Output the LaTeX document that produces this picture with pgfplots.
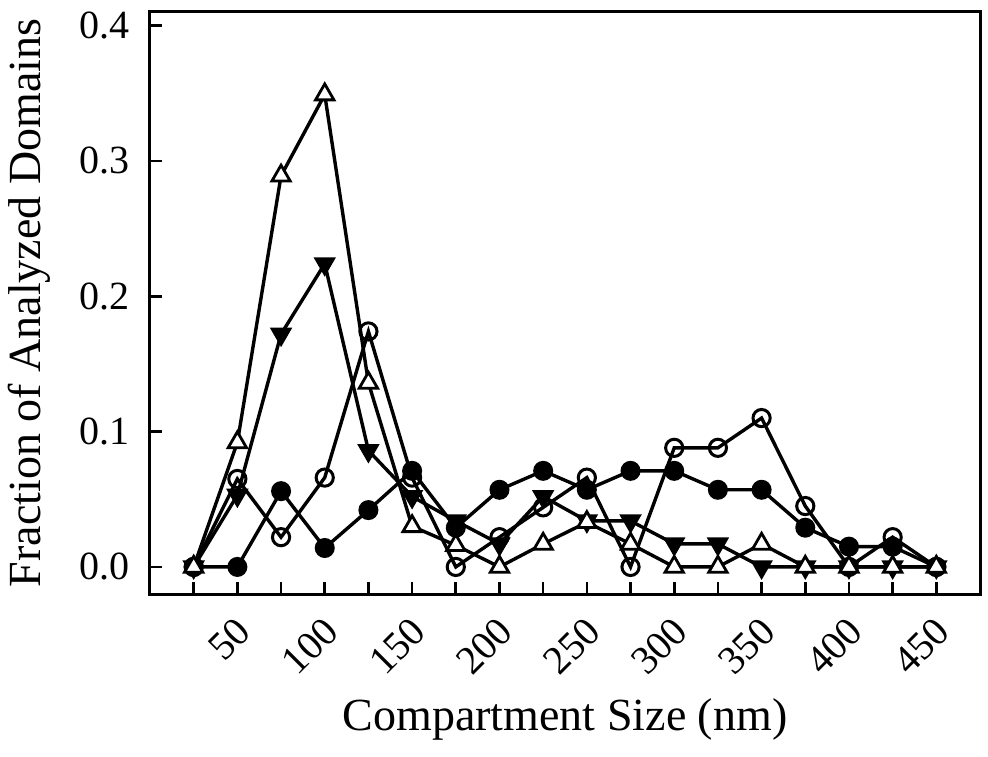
\documentclass[border=0pt]{standalone}
\usepackage{pgfplots}
\pgfplotsset{compat=1.18}
\usepackage{fontspec}
\setmainfont{Liberation Serif}
\begin{document}
\begin{tikzpicture}
\path[use as bounding box] (-75pt,-81pt) rectangle (419pt,297pt);
\begin{axis}[
  scale only axis, width=415pt, height=291pt,
  xmin=0, xmax=475, ymin=-0.02, ymax=0.41,
  /pgf/number format/assume math mode=true,
  axis line style={line width=1.5pt},
  tick style={line width=1.3pt, black},
  tick align=inside, xtick pos=bottom, ytick pos=left,
  major tick length=6pt, minor tick length=6pt,
  xtick={50,100,...,450},
  minor xtick={25,75,...,425},
  xticklabels={50,100,150,200,250,300,350,400,450},
  ytick={0,0.1,0.2,0.3,0.4},
  yticklabels={0.0,0.1,0.2,0.3,0.4},
  xticklabel style={font=\fontsize{20}{24}\selectfont, xshift=4pt, yshift=-14.5pt, rotate=45, anchor=east, inner sep=1pt},
  yticklabel style={font=\fontsize{20}{24}\selectfont, xshift=-6.5pt},
  xlabel={Compartment Size (nm)},
  ylabel={Fraction of Analyzed Domains},
  xlabel style={font=\fontsize{23}{27}\selectfont, at={(axis description cs:0.5,-0.215)}, anchor=center},
  ylabel style={font=\fontsize{23}{27}\selectfont, at={(axis description cs:-0.145,0.5)}, anchor=center},
  every axis plot/.append style={line width=1.7pt, black},
  clip=false,
]
% filled circles
\addplot[mark=*, mark size=4.5pt, mark options={fill=black, line width=1pt}] coordinates {
(25,0) (50,0) (75,0.056) (100,0.014) (125,0.042) (150,0.071) (175,0.029) (200,0.057) (225,0.071) (250,0.057) (275,0.071) (300,0.071) (325,0.057) (350,0.057) (375,0.029) (400,0.015) (425,0.015) (450,0)};
% open circles
\addplot[mark=o, mark size=4.3pt, mark options={fill=white, line width=1.5pt}] coordinates {
(25,0) (50,0.065) (75,0.022) (100,0.066) (125,0.174) (150,0.066) (175,0) (200,0.022) (225,0.044) (250,0.066) (275,0) (300,0.088) (325,0.088) (350,0.110) (375,0.045) (400,0) (425,0.022) (450,0)};
% filled down-triangles
\addplot[mark=triangle*, mark size=5.5pt, mark options={fill=black, rotate=180, line width=1pt}] coordinates {
(25,0) (50,0.053) (75,0.172) (100,0.224) (125,0.086) (150,0.052) (175,0.034) (200,0.017) (225,0.052) (250,0.034) (275,0.034) (300,0.017) (325,0.017) (350,0) (375,0) (400,0) (425,0) (450,0)};
% open up-triangles
\addplot[mark=triangle*, mark size=5.3pt, mark options={fill=white, line width=1.4pt}] coordinates {
(25,0) (50,0.092) (75,0.289) (100,0.349) (125,0.136) (150,0.030) (175,0.016) (200,0) (225,0.017) (250,0.033) (275,0.017) (300,0) (325,0) (350,0.017) (375,0) (400,0) (425,0) (450,0)};
\end{axis}
\end{tikzpicture}
\end{document}
